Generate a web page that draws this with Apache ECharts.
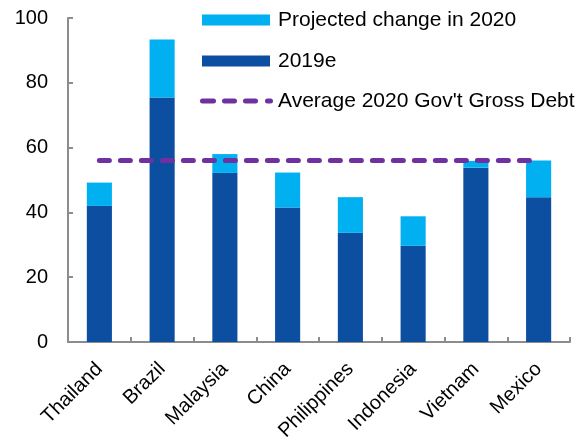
<!DOCTYPE html>
<html>
<head>
<meta charset="utf-8">
<script src="https://cdn.jsdelivr.net/npm/echarts@6/dist/echarts.min.js"></script>
<style>
  html, body { margin: 0; padding: 0; background: #fff; }
  #chart { width: 587px; height: 439px; }
</style>
</head>
<body>
<div id="chart"></div>
<script>
// Government gross debt, % of GDP
const countries = ['Thailand', 'Brazil', 'Malaysia', 'China', 'Philippines', 'Indonesia', 'Vietnam', 'Mexico'];
const debt2019e = [42.0, 75.5, 52.2, 41.5, 33.7, 29.7, 53.8, 44.7];
const change2020 = [7.2, 17.9, 5.8, 10.8, 11.0, 9.1, 2.1, 11.3];
const avg2020 = [56, 56, 56, 56, 56, 56, 56, 56];
const yTicks = [0, 20, 40, 60, 80, 100];

const FONT = '"Liberation Sans", Arial, sans-serif';
const PURPLE = '#7030a0';

// rounded dash segments for the average-line legend key (73 x 5 box)
function dash(x0, x1) {
  const r = 2.5;
  return 'M' + (x0 + r) + ',0 L' + (x1 - r) + ',0 A2.5,2.5 0 0 1 ' + (x1 - r) + ',5 L' + (x0 + r) +
    ',5 A2.5,2.5 0 0 1 ' + (x0 + r) + ',0 Z ';
}
const dashIcon = 'path://' + dash(0, 16) + dash(22, 37) + dash(43, 58) + dash(65, 73);

const chart = echarts.init(document.getElementById('chart'));
chart.setOption({
  animation: false,
  textStyle: { fontFamily: FONT },
  grid: { left: 68, right: 17, top: 18, bottom: 97, containLabel: false, outerBoundsMode: 'none' },
  legend: [
    {
      orient: 'vertical',
      left: 202,
      top: 9,
      padding: 0,
      itemWidth: 68,
      itemHeight: 11,
      itemGap: 19,
      icon: 'rect',
      textStyle: { fontFamily: FONT, fontSize: 21, color: '#000', lineHeight: 22, padding: [0, 0, 0, 3] },
      data: ['Projected change in 2020', '2019e']
    },
    {
      orient: 'vertical',
      left: 200,
      top: 90,
      padding: 0,
      itemWidth: 73,
      itemHeight: 5,
      textStyle: { fontFamily: FONT, fontSize: 21, color: '#000', lineHeight: 22 },
      data: [{ name: "Average 2020 Gov't Gross Debt", icon: dashIcon, itemStyle: { color: PURPLE } }]
    }
  ],
  xAxis: {
    type: 'category',
    data: countries,
    boundaryGap: true,
    axisLine: { lineStyle: { color: '#8c8c8c', width: 2 } },
    axisTick: { show: true, inside: true, length: 5, lineStyle: { color: '#8c8c8c', width: 2 } },
    axisLabel: { rotate: 45, fontSize: 20, color: '#000', margin: 24, fontFamily: FONT }
  },
  yAxis: {
    type: 'value',
    min: yTicks[0],
    max: yTicks[yTicks.length - 1],
    interval: 20,
    splitLine: { show: false },
    axisLine: { show: true, lineStyle: { color: '#8c8c8c', width: 2 } },
    axisTick: { show: true, inside: true, length: 5, lineStyle: { color: '#8c8c8c', width: 2 } },
    axisLabel: { fontSize: 20, color: '#000', margin: 20, fontFamily: FONT }
  },
  series: [
    {
      name: '2019e',
      type: 'bar',
      stack: 'debt',
      barWidth: '40%',
      itemStyle: { color: '#0c4ea0' },
      data: debt2019e
    },
    {
      name: 'Projected change in 2020',
      type: 'bar',
      stack: 'debt',
      barWidth: '40%',
      itemStyle: { color: '#00b0f0' },
      data: change2020
    },
    {
      name: "Average 2020 Gov't Gross Debt",
      type: 'line',
      symbol: 'none',
      itemStyle: { color: PURPLE },
      lineStyle: { color: PURPLE, width: 5, type: [10, 11], cap: 'round' },
      data: avg2020,
      z: 5
    }
  ]
});
</script>
</body>
</html>
